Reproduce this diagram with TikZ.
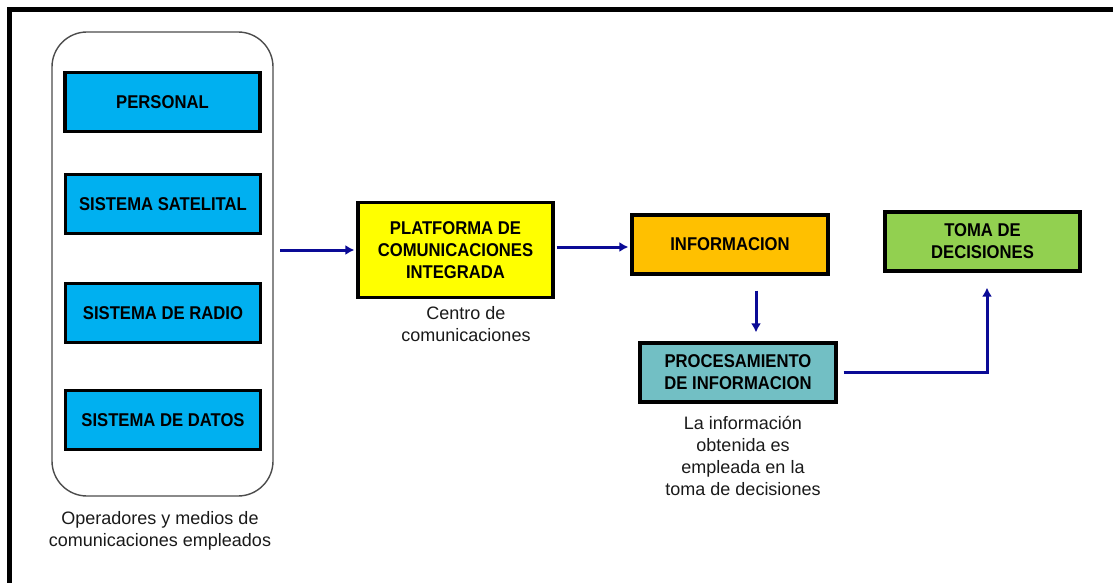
\documentclass[tikz,border=0pt]{standalone}
\usepackage{fontspec}
\setmainfont{Liberation Sans}
\newfontfamily\boxfont[FakeStretch=0.9]{Liberation Sans}
\usetikzlibrary{arrows.meta}
\definecolor{boxblue}{HTML}{00B0F0}
\definecolor{boxyellow}{HTML}{FFFF00}
\definecolor{boxorange}{HTML}{FFC000}
\definecolor{boxteal}{HTML}{72BFC4}
\definecolor{boxgreen}{HTML}{92D050}
\definecolor{arrowblue}{RGB}{10,10,150}
\definecolor{lbltext}{HTML}{1A1A1A}
\begin{document}
\begin{tikzpicture}[x=1pt,y=-1pt,
  bx/.style={draw=black, line width=3.2pt, minimum width=195pt, minimum height=59pt,
    font=\boxfont\bfseries\fontsize{18.5}{22}\selectfont, align=center, inner sep=0pt},
  lbl/.style={font=\fontsize{18}{22}\selectfont, align=center, text=lbltext, inner sep=0pt},
  conn/.style={draw=arrowblue, line width=3pt, -{Latex[length=9pt,width=10pt]}}]
\useasboundingbox (0,0) rectangle (1113,583);
% frame
\draw[line width=4.5pt] (9.5,590) -- (9.5,9.5) -- (1120,9.5);
% container
\node[draw=black!70, line width=1.4pt, rounded corners=35pt, minimum width=221pt, minimum height=464pt, inner sep=0pt] (cont) at (162.5,264) {};
% left boxes
\node[bx, fill=boxblue] (personal) at (162.5,102) {PERSONAL};
\node[bx, fill=boxblue] (satelital) at (163,204) {SISTEMA SATELITAL};
\node[bx, fill=boxblue] (radio) at (163,313) {SISTEMA DE RADIO};
\node[bx, fill=boxblue] (datos) at (163,420) {SISTEMA DE DATOS};
\node[lbl] (oplbl) at (160,531) {Operadores y medios de\\comunicaciones empleados};
% platform
\node[bx, fill=boxyellow, minimum height=95pt] (platform) at (455.5,250) {PLATFORMA DE\\COMUNICACIONES\\INTEGRADA};
\node[lbl] (cclbl) at (466,324) {Centro de\\comunicaciones};
% information
\node[bx, fill=boxorange, minimum width=196pt] (info) at (730,244.5) {INFORMACION};
\node[bx, fill=boxteal, minimum width=196pt] (proc) at (738,372.5) {PROCESAMIENTO\\DE INFORMACION};
\node[lbl] (lalbl) at (743,456) {La información\\obtenida es\\empleada en la\\toma de decisiones};
\node[bx, fill=boxgreen] (toma) at (982.5,241.5) {TOMA DE\\DECISIONES};
% connectors
\coordinate (a1) at (280,250);
\draw[conn, shorten >=2pt] (a1) -- (platform.west |- a1);
\draw[conn, shorten <=2pt, shorten >=2pt] (platform.east |- 0,247) -- (info.west |- 0,247);
\draw[conn, shorten <=15pt, shorten >=9pt] (info.south -| 756,0) -- (proc.north -| 756,0);
\draw[conn, shorten <=6pt, shorten >=15pt] (proc.east) -| (toma.south -| 987,0);
\end{tikzpicture}
\end{document}
